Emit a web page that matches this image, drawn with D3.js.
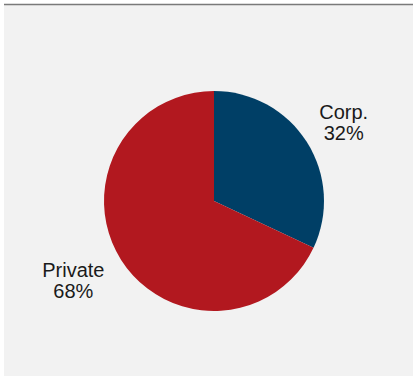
<!DOCTYPE html>
<html>
<head>
<meta charset="utf-8">
<script src="https://cdn.jsdelivr.net/npm/d3@7"></script>
<style>
  html, body { margin: 0; padding: 0; background: #ffffff; }
  svg { display: block; }
</style>
</head>
<body>
<svg id="chart" width="413" height="377"></svg>
<script>
// Share of holdings by owner type
const categories = ["Corp.", "Private"];
const shares = [32, 68];
const colors = ["#003f66", "#b2181f"];

const W = 413, H = 377;
const svg = d3.select("#chart");

// panel background and top rule
svg.append("rect").attr("x", 4).attr("y", 4).attr("width", W - 4).attr("height", 372)
  .attr("fill", "#f2f2f2");
svg.append("line").attr("x1", 4).attr("x2", W).attr("y1", 4.5).attr("y2", 4.5)
  .attr("stroke", "#7a7a7a").attr("stroke-width", 1.5);

const cx = 214, cy = 201, R = 110;
const data = categories.map((c, i) => ({ name: c, value: shares[i], color: colors[i] }));

const pie = d3.pie().value(d => d.value).sort(null);
const arc = d3.arc().innerRadius(0).outerRadius(R);
const arcs = pie(data);

const g = svg.append("g").attr("transform", `translate(${cx},${cy})`);
g.selectAll("path").data(arcs).join("path")
  .attr("d", arc)
  .attr("fill", d => d.data.color);

// labels placed outside the slices
const labelArc = d3.arc().innerRadius(150).outerRadius(150);
const nudges = { "Corp.": [3, 7], "Private": [-14, 5] };
const labels = g.selectAll("text.lbl").data(arcs).join("text")
  .attr("class", "lbl")
  .attr("transform", d => {
    const [x, y] = labelArc.centroid(d);
    const [nx, ny] = nudges[d.data.name];
    return `translate(${x + nx},${y + ny})`;
  })
  .attr("text-anchor", "middle")
  .attr("font-family", "Liberation Sans, Arial, sans-serif")
  .attr("font-size", 20)
  .attr("fill", "#1a1a1a");
labels.append("tspan").attr("x", 0).attr("y", -9).text(d => d.data.name);
labels.append("tspan").attr("x", 0).attr("y", 12).text(d => d.data.value + "%");
</script>
</body>
</html>
